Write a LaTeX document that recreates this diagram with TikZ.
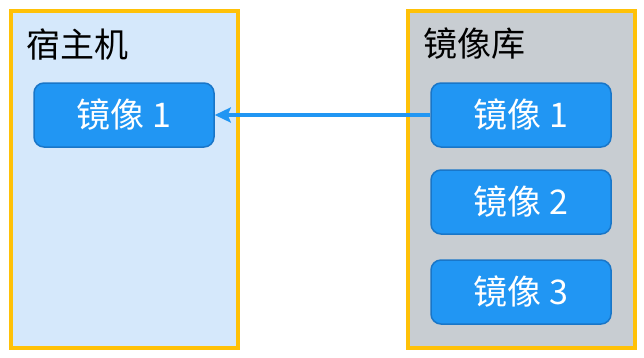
\documentclass[tikz,border=0pt]{standalone}
\usepackage{fontspec}
\setmainfont{Noto Sans CJK SC}
\usetikzlibrary{arrows.meta}
\definecolor{gold}{HTML}{FFC107}
\definecolor{hostbg}{HTML}{D5E8FB}
\definecolor{repobg}{HTML}{C8CDD2}
\definecolor{imgfill}{HTML}{2196F3}
\definecolor{imgline}{HTML}{1976C8}
\tikzset{
  container/.style={draw=gold, line width=4pt},
  imgbox/.style={draw=imgline, fill=imgfill, line width=1.5pt, rounded corners=10pt,
    minimum width=180pt, minimum height=64pt, text=white, font=\fontsize{34}{40}\selectfont, inner sep=0pt},
  title/.style={anchor=west, inner sep=0pt, font=\fontsize{34}{40}\selectfont, text=black},
  conn/.style={draw=imgfill, line width=4pt, -{Stealth[length=16pt,width=15pt,inset=3pt]}}
}
\begin{document}
\begin{tikzpicture}[x=1pt,y=-1pt]
\useasboundingbox (0,0) rectangle (644,357);
\fill[white] (0,0) rectangle (644,357);
\draw[container, fill=hostbg] (11,11) rectangle (238,348);
\draw[container, fill=repobg] (408,11) rectangle (635,348);
\node[title] (host) at (26,44) {宿主机};
\node[title] (repo) at (423,44) {镜像库};
\node[imgbox] (l1) at (124,115) {镜像 1};
\node[imgbox] (r1) at (521,115) {镜像 1};
\node[imgbox] (r2) at (521,202) {镜像 2};
\node[imgbox] (r3) at (521,292) {镜像 3};
\draw[conn] (r1.west) -- (l1.east);
\end{tikzpicture}
\end{document}
